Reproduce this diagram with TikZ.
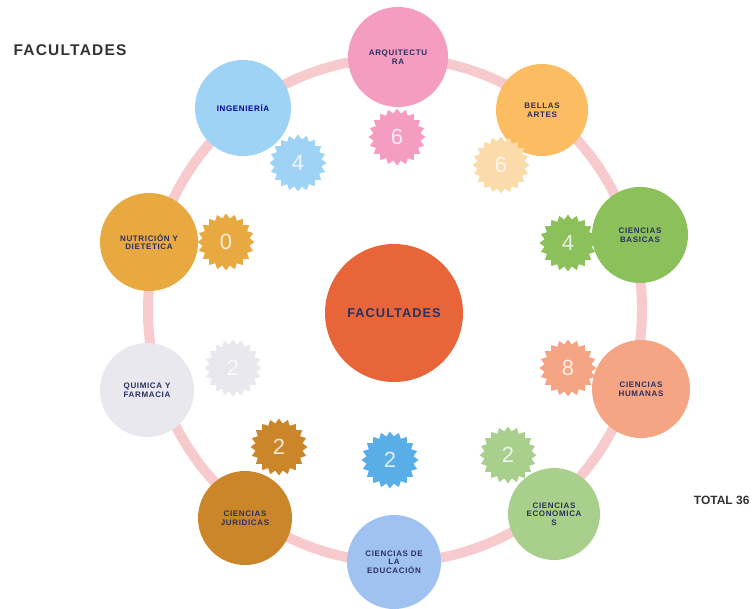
\documentclass[tikz,border=0pt]{standalone}
\usepackage{fontspec}
\setmainfont{Liberation Sans}
\newfontfamily\spaced[LetterSpace=8]{Liberation Sans}
\usepackage{tikz}
\usetikzlibrary{shapes.geometric}

\definecolor{ringpink}{HTML}{F7CACD}
\definecolor{navy}{HTML}{2A3060}
\definecolor{arqc}{HTML}{F49DC1}
\definecolor{belc}{HTML}{FBBC62}
\definecolor{belst}{HTML}{FCDBAA}
\definecolor{ingc}{HTML}{9ED3F5}
\definecolor{nutc}{HTML}{E8A940}
\definecolor{basc}{HTML}{8CC05A}
\definecolor{quic}{HTML}{E8E8EE}
\definecolor{humc}{HTML}{F5A583}
\definecolor{jurc}{HTML}{CC862A}
\definecolor{educ}{HTML}{A0C2F0}
\definecolor{edust}{HTML}{5AAEE8}
\definecolor{ecoc}{HTML}{A8D08C}
\definecolor{midc}{HTML}{E8653A}

\begin{document}
\begin{tikzpicture}[x=1pt,y=-1pt,
  every node/.style={font=\spaced\bfseries\fontsize{8}{8.6}\selectfont},
  fac/.style={circle,inner sep=0pt,minimum size=96pt,align=center,text=navy},
  badge/.style={star,star points=20,star point ratio=1.2,inner sep=0pt,minimum size=57pt,
    text=white,text opacity=.8,font=\fontsize{22}{22}\selectfont}]
 \useasboundingbox (0,0) rectangle (754,609);
 % ring behind the faculties
 \draw[ringpink,line width=10pt] (395,310) ellipse [x radius=247, y radius=252];
 \node[fac,fill=midc,minimum size=138pt,font=\spaced\bfseries\fontsize{12.8}{13}\selectfont] (mid) at (394,313) {FACULTADES};
 \node[fac,fill=arqc,minimum size=100pt] (arq) at (398,57) {ARQUITECTU\\RA};
 \node[fac,fill=belc,minimum size=92pt] (bel) at (542,110) {BELLAS\\ARTES};
 \node[fac,fill=ingc] (ing) at (243,108) {\color{blue!60!black}INGENIERÍA};
 \node[fac,fill=nutc,minimum size=98pt] (nut) at (149,242) {NUTRICIÓN Y\\DIETETICA};
 \node[fac,fill=basc] (bas) at (640,235) {CIENCIAS\\BASICAS};
 \node[fac,fill=quic,minimum size=94pt] (qui) at (147,390) {QUIMICA Y\\FARMACIA};
 \node[fac,fill=humc,minimum size=98pt] (hum) at (641,389) {CIENCIAS\\HUMANAS};
 \node[fac,fill=jurc,minimum size=94pt] (jur) at (245,518) {CIENCIAS\\JURIDICAS};
 \node[fac,fill=educ,minimum size=94pt] (edu) at (394,562) {CIENCIAS DE\\LA\\EDUCACIÓN};
 \node[fac,fill=ecoc,minimum size=92pt] (eco) at (554,514) {CIENCIAS\\ECONOMICA\\S};
 % counts per faculty
 \node[badge,fill=arqc] (narq) at (397,137) {6};
 \node[badge,fill=belst] (nbel) at (501,165) {6};
 \node[badge,fill=ingc] (ning) at (298,163) {4};
 \node[badge,fill=nutc] (nnut) at (226,242) {0};
 \node[badge,fill=basc] (nbas) at (568,243) {4};
 \node[badge,fill=quic] (nqui) at (233,368) {2};
 \node[badge,fill=humc] (nhum) at (568,368) {8};
 \node[badge,fill=jurc] (njur) at (279,447) {2};
 \node[badge,fill=edust] (nedu) at (390,460) {2};
 \node[badge,fill=ecoc] (neco) at (508,455) {2};
 \node[anchor=west,text=black!80,font=\spaced\bfseries\fontsize{15.5}{16}\selectfont] (title) at (10,50) {FACULTADES};
 \node[anchor=east,text=black!80,font=\bfseries\fontsize{12}{12}\selectfont] (total) at (753,500) {TOTAL 36};
\end{tikzpicture}
\end{document}
